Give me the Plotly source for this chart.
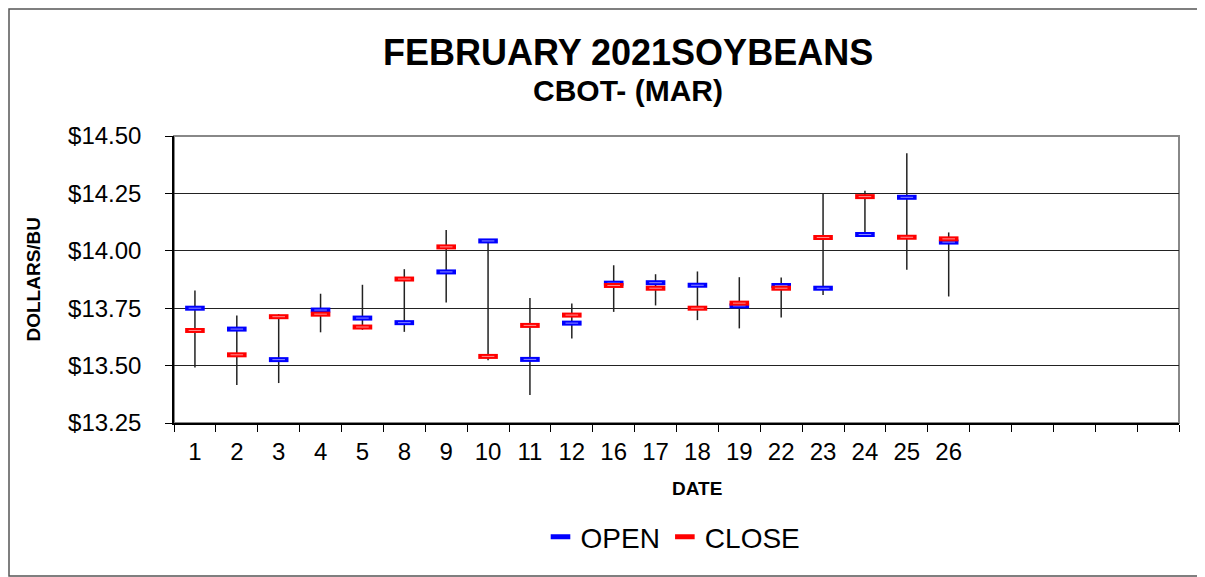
import plotly.graph_objects as go

DATES = ["1", "2", "3", "4", "5", "8", "9", "10", "11", "12", "16", "17", "18", "19", "22", "23", "24", "25", "26"]
OPEN = [13.750, 13.659, 13.526, 13.742, 13.707, 13.687, 13.908, 14.043, 13.527, 13.685,
        13.859, 13.861, 13.850, 13.760, 13.849, 13.837, 14.071, 14.233, 14.038]
CLOSE = [13.653, 13.547, 13.713, 13.724, 13.668, 13.877, 14.017, 13.540, 13.675, 13.720,
         13.849, 13.837, 13.750, 13.772, 13.837, 14.058, 14.236, 14.059, 14.052]
HIGH = [13.827, 13.718, 13.724, 13.813, 13.852, 13.920, 14.091, 14.043, 13.794, 13.771,
        13.937, 13.898, 13.910, 13.885, 13.884, 14.249, 14.261, 14.425, 14.080]
LOW = [13.492, 13.415, 13.424, 13.645, 13.656, 13.647, 13.775, 13.523, 13.372, 13.618,
       13.734, 13.762, 13.698, 13.662, 13.710, 13.807, 14.071, 13.917, 13.801]
N_SLOTS = 24  # category slots on the axis (last ones empty)
Y_TICKS = [13.25, 13.50, 13.75, 14.00, 14.25, 14.50]
Y_TICKTEXT = ["$%.2f" % v for v in Y_TICKS]

FONT = "Liberation Sans, Arial, sans-serif"
OFF = 8  # page body margin
W, H = 1205 - OFF, 577 - OFF
L, R, T, B = 174 - OFF, 26, 136 - OFF, 154
PW, PH = W - L - R, H - T - B


def px(x):
    # reference page pixel -> paper x
    return (x - OFF - L) / PW


def py(y):
    return (H - B - (y - OFF)) / PH


xs = list(range(len(DATES)))

fig = go.Figure()

# high-low lines
hx, hy = [], []
for i in xs:
    hx += [i, i, None]
    hy += [LOW[i], HIGH[i], None]
fig.add_trace(go.Scatter(x=hx, y=hy, mode="lines", line=dict(color="#222", width=1.5),
                         showlegend=False, hoverinfo="skip"))

# open markers
fig.add_trace(go.Scatter(x=xs, y=OPEN, mode="markers", name="OPEN",
                         marker=dict(symbol="line-ew", size=14, line=dict(color="#0000ff", width=5))))
fig.add_trace(go.Scatter(x=xs, y=OPEN, mode="markers", showlegend=False, hoverinfo="skip",
                         marker=dict(symbol="line-ew", size=9, line=dict(color="#8c8cff", width=1))))
# close markers
fig.add_trace(go.Scatter(x=xs, y=CLOSE, mode="markers", name="CLOSE",
                         marker=dict(symbol="line-ew", size=14, line=dict(color="#ff0000", width=5))))
fig.add_trace(go.Scatter(x=xs, y=CLOSE, mode="markers", showlegend=False, hoverinfo="skip",
                         marker=dict(symbol="line-ew", size=9, line=dict(color="#ff9090", width=1))))

fig.update_layout(
    width=W, height=H,
    margin=dict(l=L, r=R, t=T, b=B, pad=0),
    paper_bgcolor="white", plot_bgcolor="white",
    font=dict(family=FONT, color="black"),
    showlegend=True,
    legend=dict(orientation="h", x=px(673), xanchor="center", y=py(537), yanchor="middle",
                font=dict(size=28), itemwidth=30, bgcolor="rgba(0,0,0,0)"),
    xaxis=dict(
        range=[-0.5, N_SLOTS - 0.5], tickmode="array", tickvals=xs, ticktext=DATES,
        ticks="", showgrid=False, zeroline=False,
        showline=True, linecolor="black", linewidth=1.5,
        tickfont=dict(size=24), ticklabelstandoff=6,
        minor=dict(tickmode="linear", tick0=-0.5, dtick=1, ticks="outside", ticklen=7,
                   tickcolor="black", tickwidth=1, showgrid=False),
    ),
    yaxis=dict(
        range=[Y_TICKS[0], Y_TICKS[-1]], tickmode="array", tickvals=Y_TICKS, ticktext=Y_TICKTEXT,
        ticks="outside", ticklen=7, tickcolor="black", tickwidth=1,
        showgrid=True, gridcolor="#222", gridwidth=1.2, zeroline=False,
        showline=True, linecolor="black", linewidth=1.5,
        tickfont=dict(size=24), ticklabelstandoff=19,
    ),
    shapes=[
        dict(type="rect", xref="paper", yref="paper", x0=0, x1=1, y0=0, y1=1,
             line=dict(color="#888", width=2), layer="below"),
        dict(type="rect", xref="paper", yref="paper", x0=px(OFF + 1), x1=px(1203), y0=py(576), y1=py(OFF + 1),
             line=dict(color="#555", width=1.5), layer="below"),
    ],
    annotations=[
        dict(text="<b>FEBRUARY 2021SOYBEANS</b>", xref="paper", yref="paper", x=px(628), y=py(53),
             xanchor="center", yanchor="middle", showarrow=False, font=dict(size=36)),
        dict(text="<b>CBOT- (MAR)</b>", xref="paper", yref="paper", x=px(628), y=py(90),
             xanchor="center", yanchor="middle", showarrow=False, font=dict(size=30)),
        dict(text="<b>DATE</b>", xref="paper", yref="paper", x=px(697), y=py(488),
             xanchor="center", yanchor="middle", showarrow=False, font=dict(size=19)),
        dict(text="<b>DOLLARS/BU</b>", xref="paper", yref="paper", x=px(33), y=py(279.5),
             xanchor="center", yanchor="middle", showarrow=False, textangle=-90, font=dict(size=19)),
    ],
)

fig.write_html("out.html")
